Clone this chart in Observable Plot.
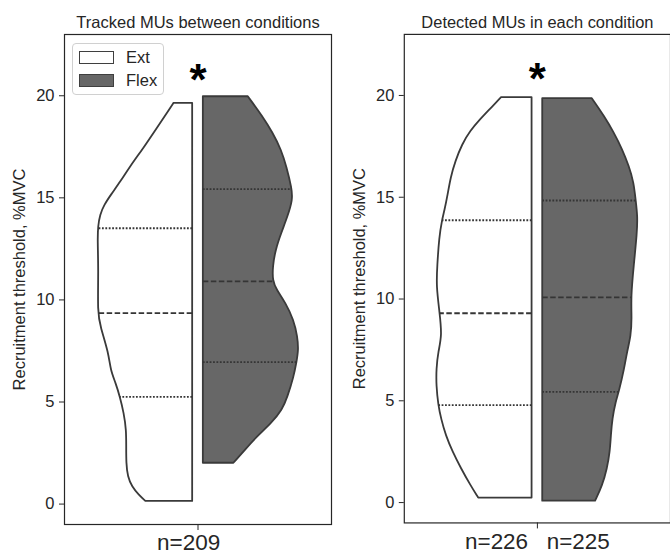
<!DOCTYPE html>
<html><head><meta charset="utf-8">
<script src="https://cdn.jsdelivr.net/npm/d3@7"></script>
<script src="https://cdn.jsdelivr.net/npm/@observablehq/plot@0.6"></script>
<style>
body{margin:0;background:#fff;overflow:hidden;font-family:"Liberation Sans",Arial,sans-serif}
#wrap{position:relative;width:670px;height:553px;overflow:hidden}
.panel{position:absolute;top:0}
#legend{position:absolute;left:72px;top:43px;width:90px;height:50px;border:1px solid #d0d0d0;border-radius:4px;background:rgba(255,255,255,0.85);font-size:16.5px;color:#262626}
.item{position:absolute;left:6px;display:flex;align-items:center}
.patch{width:33px;height:11px;border:1.5px solid #3f3f3f;margin-right:12px}
</style>
</head><body>
<div id="wrap">
  <div class="panel" id="p1" style="left:0"></div>
  <div class="panel" id="p2" style="left:335px"></div>
  <div id="legend"></div>
</div>
<script>
// ---------- data ----------
const panelTitles = ["Tracked MUs between conditions", "Detected MUs in each condition"];
const conditions = ["Ext", "Flex"];
const conditionFills = ["#ffffff", "#676767"];
const nLabels = ["n=209\u00a0\u00a0\u00a0", "n=226\u00a0\u00a0\u00a0n=225"];
const yTicks = [0, 5, 10, 15, 20];
const yLabel = "Recruitment threshold, %MVC";
const significance = "*";

// Tracked MUs: recruitment threshold values (%MVC) and relative KDE width
const trackedExtRT      = [19.63, 19.38, 18.40, 17.42, 16.52, 15.78, 15.13, 14.64, 14.15, 13.58, 12.93, 11.46, 9.35, 8.66, 7.39, 6.55, 5.90, 5.25, 4.43, 3.61, 2.79, 1.98, 1.32, 0.83, 0.43, 0.13];
const trackedExtDensity = [0.195, 0.23, 0.37, 0.51, 0.65, 0.75, 0.85, 0.92, 0.965, 0.985, 0.99, 0.98, 0.99, 0.96, 0.875, 0.855, 0.80, 0.757, 0.715, 0.69, 0.69, 0.69, 0.675, 0.63, 0.56, 0.49];
const trackedFlexRT      = [19.95, 18.96, 18.17, 17.33, 16.5, 15.43, 14.89, 14.05, 13.26, 12.44, 11.6, 10.91, 10.48, 9.84, 9.0, 8.17, 7.52, 6.95, 6.21, 5.23, 4.59, 3.96, 3.27, 2.63, 2.0];
const trackedFlexDensity = [0.47, 0.625, 0.73, 0.82, 0.875, 0.93, 0.94, 0.885, 0.82, 0.76, 0.73, 0.73, 0.77, 0.865, 0.95, 0.99, 1.0, 0.98, 0.95, 0.885, 0.83, 0.72, 0.56, 0.44, 0.32];
// Detected MUs
const detectedExtRT      = [19.89, 19.3, 18.81, 18.24, 17.58, 16.76, 15.95, 15.13, 14.31, 13.86, 13.01, 11.6, 10.62, 9.3, 8.17, 7.39, 6.55, 5.72, 4.79, 4.1, 3.27, 2.49, 1.65, 0.82, 0.22];
const detectedExtDensity = [0.32, 0.44, 0.54, 0.645, 0.73, 0.80, 0.85, 0.88, 0.915, 0.94, 0.97, 0.99, 1.0, 0.965, 0.94, 0.98, 1.0, 1.0, 0.98, 0.95, 0.90, 0.83, 0.74, 0.64, 0.56];
const detectedFlexRT      = [19.84, 18.96, 18.17, 17.33, 16.5, 15.71, 14.84, 14.05, 13.26, 11.6, 10.08, 9.0, 8.17, 7.39, 6.55, 5.44, 4.94, 4.1, 3.27, 2.49, 1.65, 0.82, 0.07];
const detectedFlexDensity = [0.52, 0.65, 0.75, 0.84, 0.91, 0.96, 0.98, 1.0, 0.995, 0.96, 0.93, 0.94, 0.93, 0.89, 0.86, 0.805, 0.77, 0.735, 0.72, 0.71, 0.68, 0.63, 0.555];

// quartiles [Q1, median, Q3]
const trackedExtQuartiles   = [5.25, 9.35, 13.51];
const trackedFlexQuartiles  = [6.95, 10.91, 15.43];
const detectedExtQuartiles  = [4.79, 9.30, 13.87];
const detectedFlexQuartiles = [5.44, 10.08, 14.84];

// ---------- drawing ----------
const GAP = 0.02, HALF = 0.358;
const OUTLINE = "#3a3a3a", INK = "#262626";

function widthAt(rt, dens, v) {
  for (let i = 0; i < rt.length - 1; i++) {
    const a = rt[i], b = rt[i + 1];
    if ((v <= a && v >= b) || (v >= a && v <= b)) {
      const t = (v - a) / (b - a);
      return dens[i] + t * (dens[i + 1] - dens[i]);
    }
  }
  return dens[0];
}

function halfViolin(rt, dens, q, side, fill) {
  const rows = rt.map((v, i) => ({y: v, x1: side * GAP, x2: side * (GAP + HALF * dens[i])}));
  const qRows = q.map((v, i) => ({y: v, x1: side * GAP, x2: side * (GAP + HALF * widthAt(rt, dens, v)), k: i}));
  return [
    Plot.areaX(rows, {y: "y", x1: "x1", x2: "x2", fill, stroke: OUTLINE, strokeWidth: 1.8, curve: "basis"}),
    Plot.ruleY(qRows.filter(d => d.k !== 1), {y: "y", x1: "x1", x2: "x2", stroke: "#353535", strokeWidth: 1.8, strokeDasharray: "1.8,1.6"}),
    Plot.ruleY(qRows.filter(d => d.k === 1), {y: "y", x1: "x1", x2: "x2", stroke: "#353535", strokeWidth: 1.8, strokeDasharray: "5.5,2.5"})
  ];
}

function panel(title, nLabel, ext, flex, opts) {
  return Plot.plot({
    width: opts.width, height: 553,
    marginLeft: opts.marginLeft, marginRight: opts.marginRight, marginTop: 34, marginBottom: 29,
    style: {fontFamily: '"Liberation Sans", Arial, sans-serif', background: "transparent", color: INK},
    x: {type: "linear", domain: [-0.5, 0.5]},
    y: {domain: [-1, 23]},
    marks: [
      ...halfViolin(ext.rt, ext.dens, ext.q, -1, conditionFills[0]),
      ...halfViolin(flex.rt, flex.dens, flex.q, 1, conditionFills[1]),
      Plot.frame({stroke: INK, strokeWidth: 1.2}),
      Plot.axisY({ticks: yTicks, tickSize: 5, tickPadding: 5, fontSize: 16.5, stroke: INK,
        label: yLabel, labelAnchor: "center", labelArrow: "none", labelOffset: 51}),
      Plot.axisX({ticks: [0], tickFormat: () => nLabel, tickSize: 6, tickPadding: 4, fontSize: 22.5, stroke: INK, label: null}),
      Plot.text([title], {frameAnchor: "top", lineAnchor: "middle", dy: -12, fontSize: 16.5, fill: INK}),
      Plot.text([significance], {x: [0], frameAnchor: "top", lineAnchor: "middle", dy: 46, fontSize: 44, fontWeight: "bold", fill: "#000"})
    ]
  });
}

document.getElementById("p1").append(panel(panelTitles[0], nLabels[0],
  {rt: trackedExtRT, dens: trackedExtDensity, q: trackedExtQuartiles},
  {rt: trackedFlexRT, dens: trackedFlexDensity, q: trackedFlexQuartiles},
  {width: 335, marginLeft: 64, marginRight: 4}));
document.getElementById("p2").append(panel(panelTitles[1], nLabels[1],
  {rt: detectedExtRT, dens: detectedExtDensity, q: detectedExtQuartiles},
  {rt: detectedFlexRT, dens: detectedFlexDensity, q: detectedFlexQuartiles},
  {width: 336, marginLeft: 69, marginRight: 0}));

// legend
const legend = document.getElementById("legend");
conditions.forEach((c, i) => {
  const item = document.createElement("div");
  item.className = "item";
  item.style.top = (i === 0 ? 4 : 27) + "px";
  const p = document.createElement("div");
  p.className = "patch";
  p.style.background = conditionFills[i];
  const t = document.createElement("span");
  t.textContent = c;
  item.append(p, t);
  legend.append(item);
});
</script>
</body></html>
